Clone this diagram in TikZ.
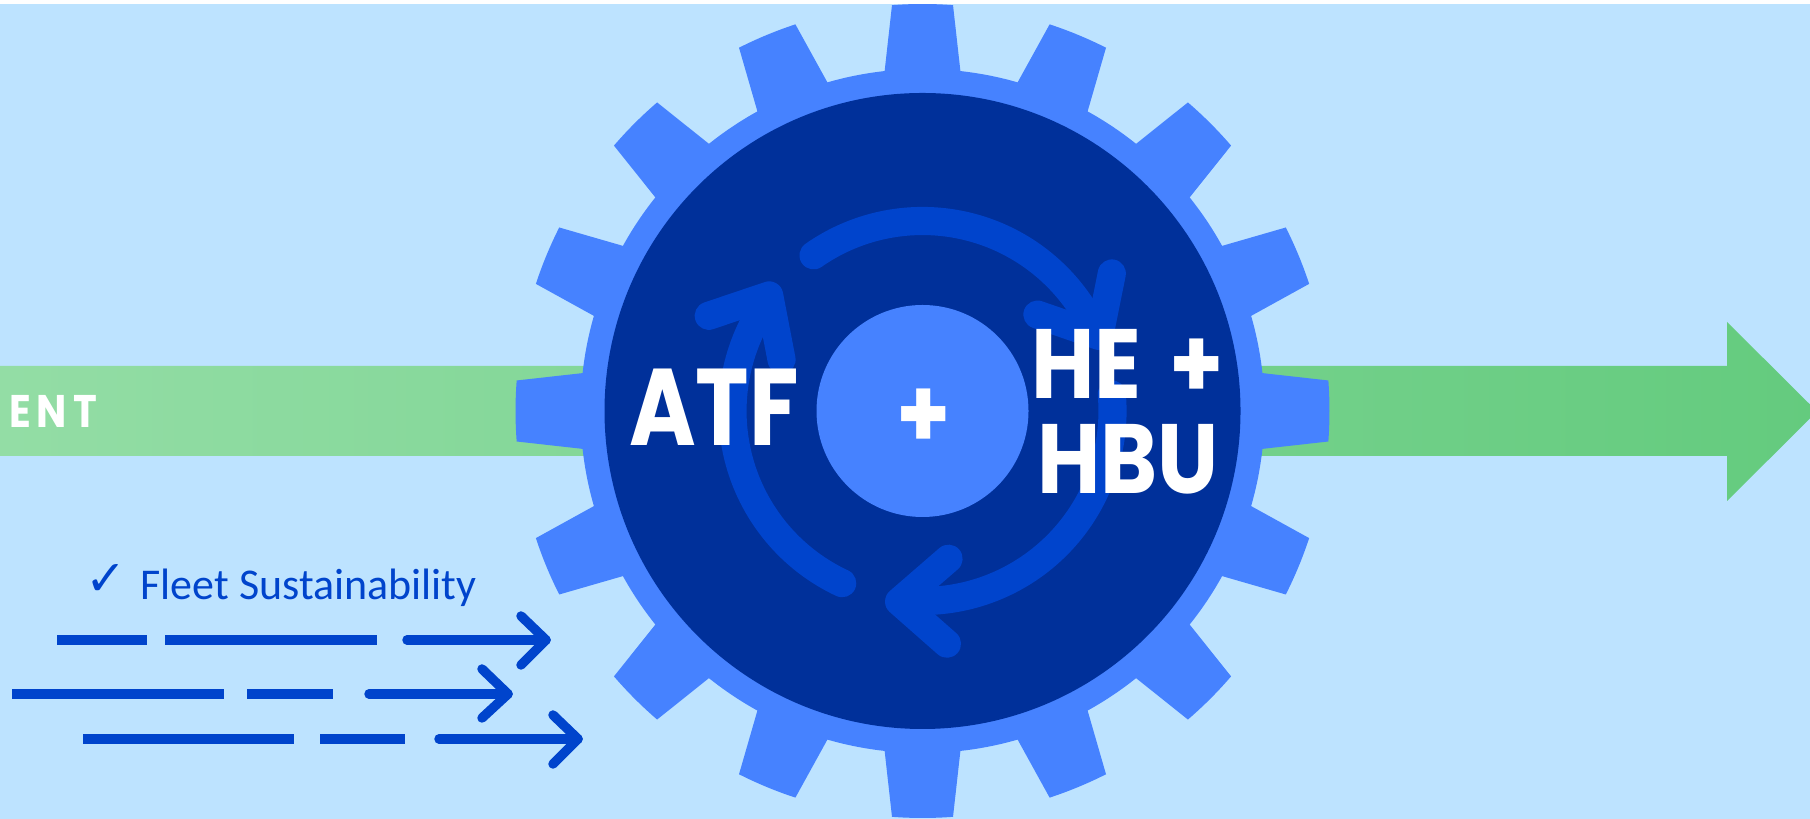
\documentclass[tikz,border=0pt]{standalone}
\usepackage{fontspec}
\setmainfont{Poppins}
\newfontfamily\atffont[FakeStretch=0.83]{Poppins}
\newfontfamily\hefont[FakeStretch=0.88]{Poppins}
\newfontfamily\fleetfont{Carlito}
\newfontfamily\tickfont{DejaVu Sans}
\definecolor{skyback}{HTML}{BDE3FF}
\definecolor{gearblue}{HTML}{4682FF}
\definecolor{geardark}{HTML}{00309A}
\definecolor{ringblue}{HTML}{0044CC}
\definecolor{barleft}{HTML}{93DDA5}
\definecolor{barright}{HTML}{64CB7E}
\tikzset{
  bigtext/.style={text=white,inner sep=0pt},
  ringline/.style={draw=ringblue,line width=8pt,line cap=round,line join=round},
  dashline/.style={draw=ringblue,line width=2.7pt},
  flowline/.style={draw=ringblue,line width=2.7pt,line cap=round,line join=round}
}
\begin{document}
\begin{tikzpicture}[x=0.01cm,y=0.01cm]
  \useasboundingbox (0,0) rectangle (1810,819);
  \clip (0,0) rectangle (1810,819);
  \fill[white] (0,0) rectangle (1810,819);
  \fill[skyback] (0,0) rectangle (1810,815);
  \shade[left color=barleft,right color=barright] (0,453)--(1727,453)--(1727,497)--(1817,407.5)--(1727,318)--(1727,363)--(0,363)--cycle;
  \begin{scope}[shift={(922.5,408)}]
    \fill[gearblue] (0,0) circle (342);
    \foreach \a in {0,22.5,...,337.5}
      \fill[gearblue] ({\a-6.4}:341)--({\a-4.3}:407) arc ({\a-4.3}:{\a+4.3}:407)--({\a+6.4}:341)--cycle;
    \fill[geardark] (0,0) circle (318);
    \foreach \a in {0,120,240}{
      \draw[ringline] ({125+\a}:190) arc ({125+\a}:{24+\a}:190);
      \draw[ringline] ({36+\a}:234)--({23+\a}:192)--({40+\a}:150);
    }
    \fill[gearblue] (0,0) circle (106);
  \end{scope}
  \node (ent) [bigtext,anchor=base west,font=\hefont\fontsize{13}{13}\selectfont\bfseries] at (9,391) {E\hspace{1.5pt}N\hspace{2pt}T};
  \node (atf) [bigtext,anchor=base,font=\atffont\fontsize{31}{31}\selectfont\bfseries] at (714,373) {ATF};
  \node (plus) [bigtext,anchor=center,font=\hefont\fontsize{28}{28}\selectfont\bfseries] at (924,400) {+};
  \node (he) [bigtext,anchor=base,font=\hefont\fontsize{28}{28}\selectfont\bfseries] at (1128,420) {HE\hspace{8pt}+};
  \node (hbu) [bigtext,anchor=base,font=\hefont\fontsize{28}{28}\selectfont\bfseries] at (1128,325) {HBU};
  \node (fleet) [anchor=base west,inner sep=0pt,text=ringblue,font=\fleetfont\fontsize{12.5}{12.5}\selectfont] at (140,219) {Fleet Sustainability};
  \node (tick) [anchor=base west,inner sep=0pt,text=ringblue,font=\tickfont\fontsize{14}{14}\selectfont] at (85,223) {✓};
  \draw[dashline] (57,179)--(147,179);
  \draw[dashline] (165,179)--(377,179);
  \draw[flowline] (407,179)--(546,179);
  \draw[flowline] (521,203)--(546,179)--(521,154);
  \draw[dashline] (12,125)--(224,125);
  \draw[dashline] (247,125)--(333,125);
  \draw[flowline] (369,125)--(508,125);
  \draw[flowline] (482,150)--(508,125)--(482,101);
  \draw[dashline] (83,80)--(294,80);
  \draw[dashline] (320,80)--(405,80);
  \draw[flowline] (439,80)--(578,80);
  \draw[flowline] (553,104)--(578,80)--(553,55);
\end{tikzpicture}
\end{document}
